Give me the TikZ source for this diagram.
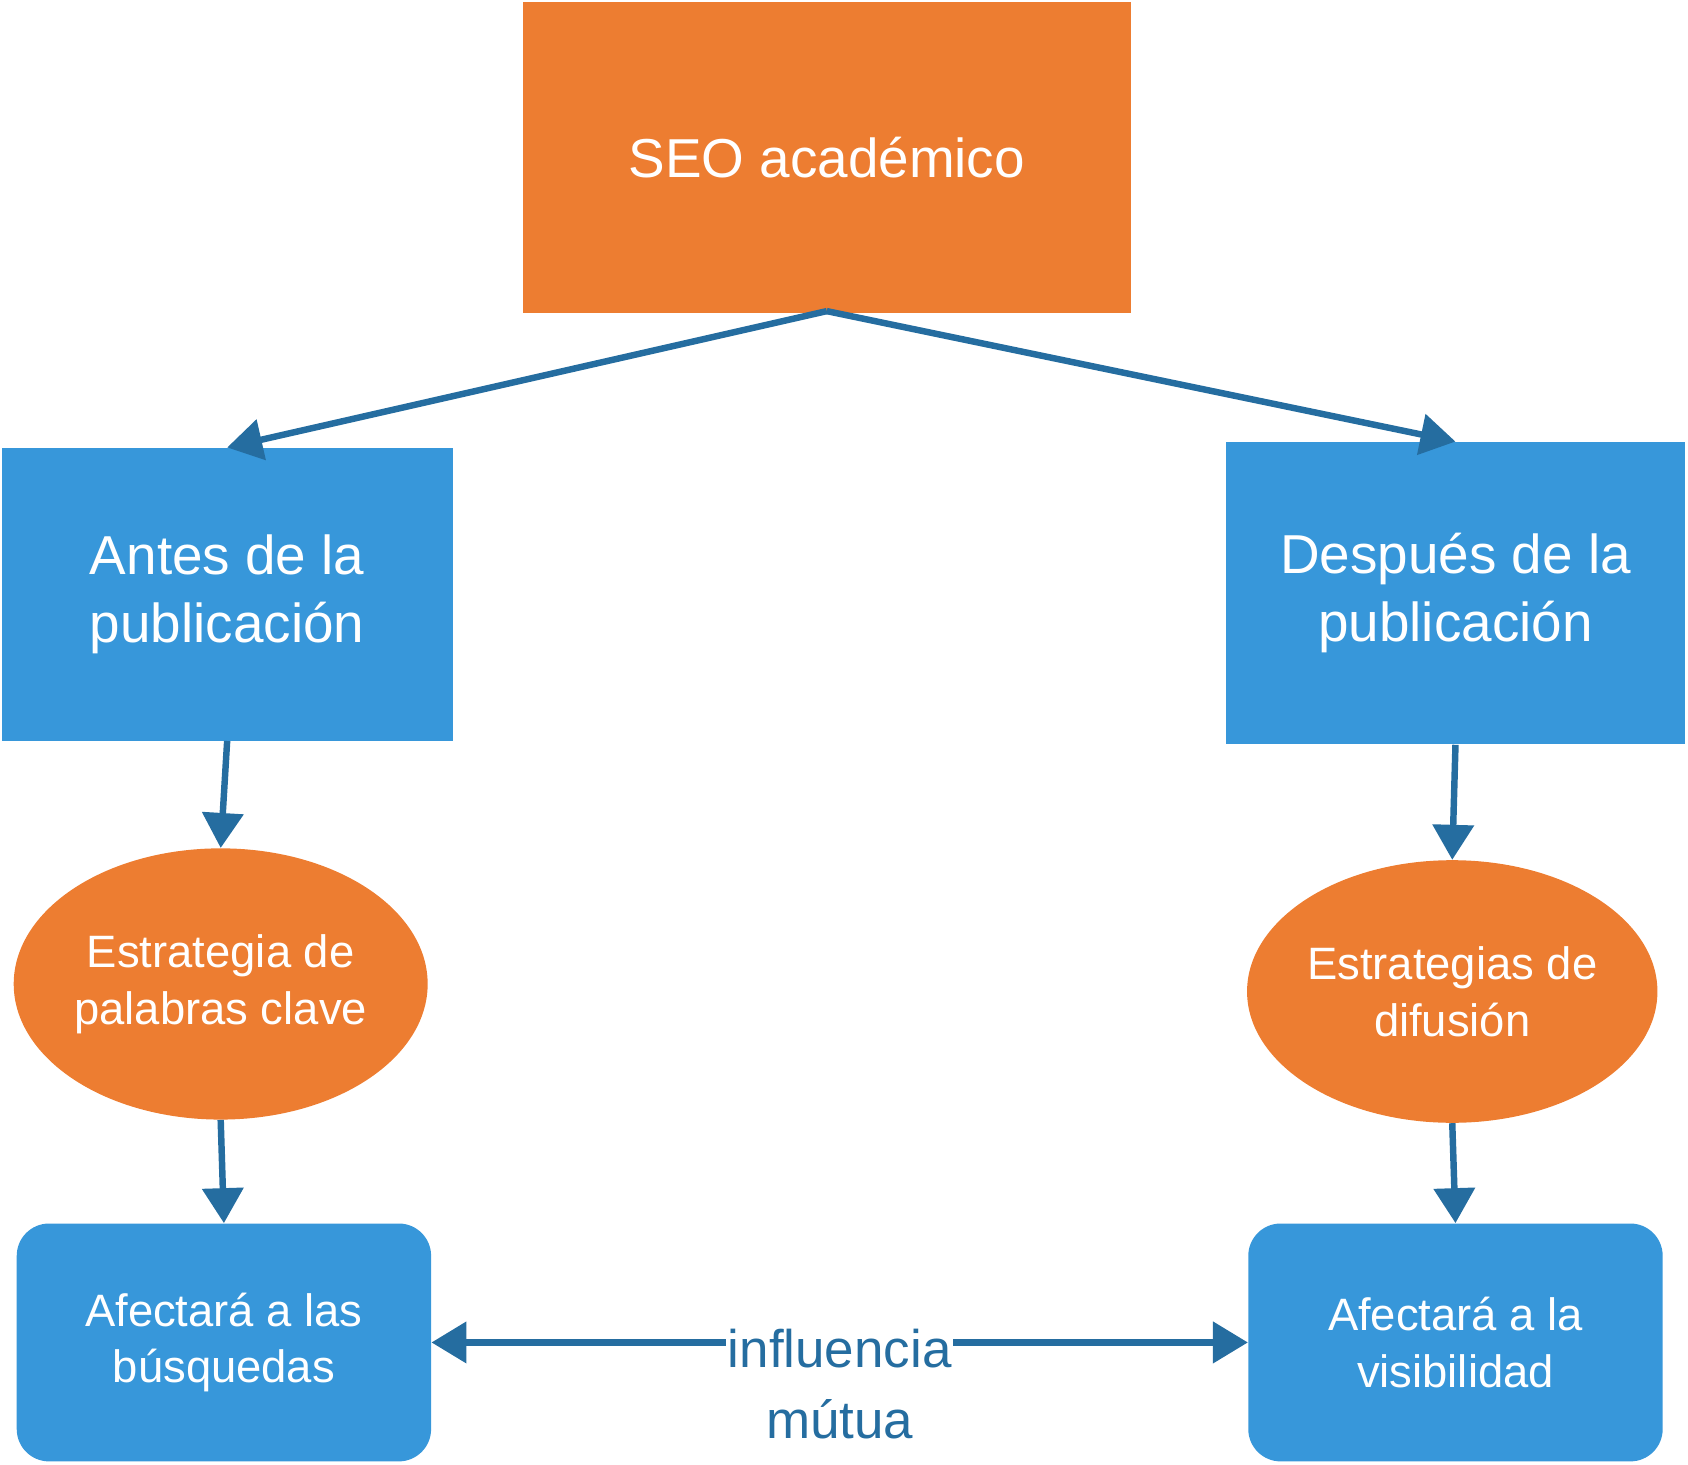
\documentclass[tikz,border=0pt]{standalone}
\usepackage{fontspec}
\setmainfont{Liberation Sans}
\usetikzlibrary{shapes.geometric,arrows.meta}
\definecolor{org}{HTML}{ED7D31}
\definecolor{blu}{HTML}{3797DA}
\definecolor{arr}{HTML}{256DA0}
\tikzset{
 rectbox/.style={fill=blu,text=white,font=\fontsize{29}{36}\selectfont,align=center,inner sep=0},
 ell/.style={ellipse,fill=org,text=white,font=\fontsize{24}{30}\selectfont,align=center,inner sep=0},
 rbox/.style={fill=blu,rounded corners=0.6cm,text=white,font=\fontsize{24}{30}\selectfont,align=center,inner sep=0},
 con/.style={draw=arr,line width=0.12cm,-{Triangle[length=0.65cm,width=0.75cm]}},
}
\begin{document}
\begin{tikzpicture}[x=0.02cm,y=-0.02cm]
\useasboundingbox (0,0) rectangle (1568,1360);
\node[rectbox,fill=org,minimum width=11.3cm,minimum height=5.78cm] (seo) at (768,146) {SEO académico};
\node[rectbox,minimum width=8.38cm,minimum height=5.44cm] (antes) at (211,552) {Antes de la\\publicación};
\node[rectbox,minimum width=8.54cm,minimum height=5.62cm] (desp) at (1352,551) {Después de la\\publicación};
\node[ell,minimum width=7.6cm,minimum height=5.04cm] (e1) at (205,914) {Estrategia de\\palabras clave};
\node[ell,minimum width=7.32cm,minimum height=4.88cm] (e2) at (1349,921) {Estrategias de\\difusión};
\node[rbox,minimum width=7.7cm,minimum height=4.42cm] (b1) at (208,1247) {Afectará a las\\búsquedas};
\node[rbox,minimum width=7.7cm,minimum height=4.42cm] (b2) at (1352,1247) {Afectará a la\\visibilidad};
\coordinate (top) at (768,289);
\draw[con] (top) -- (antes.north);
\draw[con] (top) -- (desp.north);
\draw[con] (antes.south) -- (e1.north);
\draw[con] (desp.south) -- (e2.north);
\draw[con] (e1.south) -- (b1.north);
\draw[con] (e2.south) -- (b2.north);
\draw[con,{Triangle[length=0.65cm,width=0.75cm]}-{Triangle[length=0.65cm,width=0.75cm]}] (b1.east) -- (b2.west);
\node[fill=white,text=arr,font=\fontsize{28}{34}\selectfont,inner sep=1pt] (lab) at (780,1253) {influencia};
\node[text=arr,font=\fontsize{28}{34}\selectfont,inner sep=1pt] (lab2) at (780,1318) {mútua};
\end{tikzpicture}
\end{document}
